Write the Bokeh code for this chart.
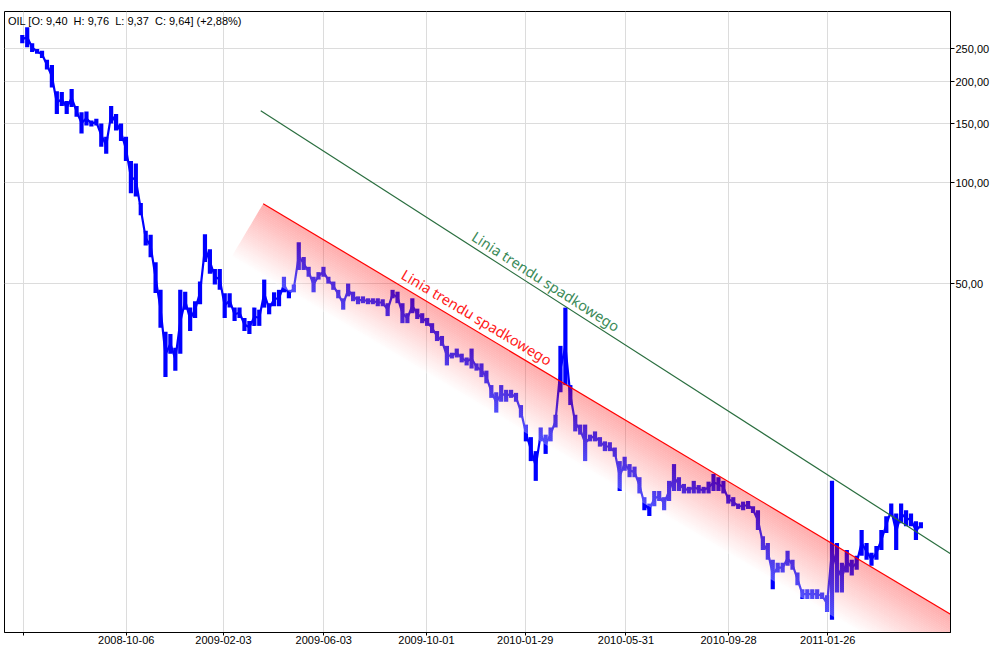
import math
from bokeh.plotting import figure
from bokeh.models import FixedTicker, Range1d
from bokeh.core.properties import value
from bokeh.embed import file_html
from bokeh.resources import INLINE

# ---------------- data ----------------
title_text = "OIL [O: 9,40\u00a0 H: 9,76\u00a0 L: 9,37\u00a0 C: 9,64] (+2,88%)"

# price range (high / low) per sample bar
hi = [
    275, 290, 260, 250, 247, 232, 224, 187, 186, 175,
    190, 169, 162, 163, 153, 155, 150, 137, 169, 160,
    150, 137, 116, 114, 87, 72, 70, 58, 48, 36,
    35.5, 32.3, 48, 47.4, 42.5, 44.4, 50.8, 70.3, 63.4, 55.4,
    55.4, 46.9, 46.9, 42.5, 42.5, 39.6, 38.8, 42.5, 41.9, 51.5,
    43.8, 47.2, 48.0, 52.5, 48.0, 49.8, 66.5, 60.1, 56.2, 52.5,
    54.2, 56.2, 52.5, 50.8, 48.0, 45.3, 50.1, 47.4, 45.9, 45.9,
    45.3, 45.3, 45.3, 45.0, 43.8, 48.0, 47.4, 43.8, 40.9, 45.3,
    42.2, 40.9, 39.6, 38.2, 36.2, 35.0, 32.7, 31.2, 32.1, 31.0,
    30.2, 32.1, 29.0, 29.0, 27.6, 25.0, 23.8, 25.0, 24.2, 24.2,
    23.7, 21.8, 19.07, 17.5, 15.9, 18.7, 17.8, 18.7, 20.4, 32.7,
    42.5, 25.0, 20.4, 19.07, 19.07, 17.8, 18.2, 17.5, 17.0, 16.9,
    16.3, 14.85, 15.3, 14.55, 14.3, 13.3, 11.6, 11.1, 12.1, 12.1,
    11.6, 12.97, 14.55, 13.3, 12.7, 12.45, 12.97, 12.6, 12.45, 12.9,
    13.6, 13.3, 12.97, 11.8, 11.6, 11.1, 11.25, 11.3, 10.9, 10.6,
    8.88, 8.47, 7.55, 7.40, 7.40, 8.03, 7.55, 6.92, 6.17, 6.17,
    6.17, 6.17, 6.04, 5.92, 12.97, 8.47, 7.40, 8.08, 7.55, 7.76,
    9.26, 8.47, 7.92, 8.30, 9.26, 10.17, 11.1, 10.38, 11.1, 10.6,
    10.38, 9.83, 9.76,
]
lo = [
    260, 253, 245, 242, 235, 217, 192, 160, 169, 160,
    168, 157, 140, 148, 147, 148, 128, 122, 150, 143,
    133, 116, 93, 91, 80, 65, 60, 47, 37, 26.4,
    31.0, 27.6, 31.0, 41.9, 36.2, 39.6, 43.5, 58.1, 53.6, 49.8,
    48.0, 39.6, 42.5, 38.8, 39.6, 36.2, 35.5, 37.5, 37.5, 42.5,
    40.6, 42.9, 42.9, 47.2, 45.3, 47.2, 55.0, 55.0, 52.5, 47.2,
    51.5, 52.5, 50.1, 48.0, 45.3, 41.9, 45.9, 44.4, 43.5, 43.8,
    43.5, 43.5, 42.9, 42.9, 40.1, 45.3, 43.8, 38.2, 38.2, 40.9,
    39.3, 38.2, 37.5, 35.7, 33.8, 32.7, 28.6, 30.0, 30.2, 29.2,
    28.6, 28.0, 27.6, 26.4, 25.3, 22.9, 20.7, 22.3, 22.3, 22.9,
    22.3, 20.0, 17.0, 14.85, 12.97, 17.0, 15.6, 17.0, 18.7, 23.8,
    25.0, 21.8, 18.2, 17.8, 14.85, 17.0, 17.0, 16.4, 15.9, 15.9,
    15.3, 12.1, 13.9, 13.3, 13.3, 11.9, 10.6, 10.2, 10.9, 11.3,
    10.6, 11.3, 12.1, 12.1, 11.9, 11.9, 11.9, 11.9, 11.9, 11.9,
    12.1, 12.1, 11.9, 11.1, 10.9, 10.7, 10.6, 10.7, 10.4, 9.26,
    8.08, 7.55, 6.17, 6.92, 6.92, 7.25, 7.06, 6.34, 5.77, 5.77,
    5.77, 5.77, 5.77, 5.28, 5.01, 6.04, 6.04, 6.92, 6.78, 7.06,
    7.76, 7.55, 7.25, 7.55, 8.08, 9.07, 10.17, 8.08, 9.70, 9.50,
    9.50, 8.65, 9.37,
]
idx = list(range(len(hi)))

tick_idx = [0.26, 21.06, 40.74, 61.06, 81.86, 101.86, 122.26, 143.06, 163.14]
tick_labels = ["", "2008-10-06", "2009-02-03", "2009-06-03", "2009-10-01",
               "2010-01-29", "2010-05-31", "2010-09-28", "2011-01-26"]
y_ticks = [50, 100, 150, 200, 250]
y_tick_labels = ["50,00", "100,00", "150,00", "200,00", "250,00"]

green_x = [48.3, 188.0]
green_y = [163.6, 7.87]
red_x = [48.8, 188.0]
red_y = [86.6, 5.20]
trend_label = "Linia trendu spadkowego"
green_label_pos = (106.1, 50.95)
red_label_pos = (92.1, 39.87)

# ---------------- figure ----------------
W, H = 992, 648
ML, MT, MR, MB = 4, 11, 41, 16
X0, X1 = -3.6, 188.0
Y0, Y1 = 4.59, 323.1
FONT = "Liberation Sans"

p = figure(width=W, height=H, y_axis_type="log",
           x_range=Range1d(X0, X1), y_range=Range1d(Y0, Y1),
           output_backend="svg", toolbar_location=None,
           y_axis_location="right",
           min_border_left=ML, min_border_top=MT,
           min_border_right=MR, min_border_bottom=MB)
p.background_fill_color = "white"
p.border_fill_color = "white"
p.outline_line_color = "black"
p.outline_line_width = 1

for ax in (p.xaxis[0], p.yaxis[0]):
    ax.axis_line_color = "black"
    ax.major_tick_line_color = "black"
    ax.minor_tick_line_color = None
    ax.major_tick_in = 0
    ax.major_label_text_font = FONT
    ax.major_label_text_font_size = "11px"
    ax.major_label_text_color = "black"

xt = FixedTicker(ticks=tick_idx)
yt = FixedTicker(ticks=y_ticks)
p.xaxis.ticker = xt
p.xaxis.major_label_overrides = dict(zip(tick_idx, tick_labels))
p.xaxis.major_tick_out = 3
p.xaxis.major_label_standoff = 0
p.yaxis.ticker = yt
p.yaxis.major_label_overrides = dict(zip(y_ticks, y_tick_labels))
p.yaxis.major_tick_out = 4
p.yaxis.major_label_standoff = 1
p.xgrid.ticker = xt
p.ygrid.ticker = yt
p.grid.grid_line_color = "#dcdcdc"
p.grid.minor_grid_line_color = None

fw = W - ML - MR
fh = H - MT - MB
ppx = fw / (X1 - X0)
ppd = fh / (math.log10(Y1) - math.log10(Y0))

# candles (high-low ranges) + connecting trace
mid = [math.sqrt(h * l) for h, l in zip(hi, lo)]
p.line(idx, mid, line_color="#0000ff", line_width=2.2)
p.vbar(x=idx, top=hi, bottom=lo, width=0.85, fill_color="#0000ff", line_color=None)

# gradient band below the red trend line (stacked strips)
lr0, lr1 = math.log10(red_y[0]), math.log10(red_y[1])
dxp = (red_x[1] - red_x[0]) * ppx
dyp = -(lr1 - lr0) * ppd
Lr = math.hypot(dxp, dyp)
nx, ny = -dyp / Lr, dxp / Lr
slope_log = (lr1 - lr0) / (red_x[1] - red_x[0])
ext_x = red_x[1] + 25
ext_l = lr0 + slope_log * (ext_x - red_x[0])


def shift(xd, ly, t):
    return xd + nx * t / ppx, 10 ** (ly - ny * t / ppd)


N, T = 36, 62.0
xs, ys, cols = [], [], []
for k in range(N):
    t0, t1 = T * k / N, T * (k + 1) / N
    a = shift(red_x[0], lr0, t0)
    b = shift(ext_x, ext_l, t0)
    c = shift(ext_x, ext_l, t1)
    d = shift(red_x[0], lr0, t1)
    xs.append([a[0], b[0], c[0], d[0]])
    ys.append([a[1], b[1], c[1], d[1]])
    g = int(round(255 * (k + 0.5) / N))
    cols.append("#%02x%02x%02x" % (255, g, g))
p.patches(xs, ys, fill_color=cols, fill_alpha=0.33, line_color=None)

# trend lines
p.line(green_x, green_y, line_color="#2a6e3f", line_width=1.2)
p.line(red_x, red_y, line_color="#ff0000", line_width=1.2)

# labels along lines
gdx = (green_x[1] - green_x[0]) * ppx
gdy = -(math.log10(green_y[1]) - math.log10(green_y[0])) * ppd
ang_g = -math.atan2(gdy, gdx)
ang_r = -math.atan2(dyp, dxp)
p.text(x=[green_label_pos[0]], y=[green_label_pos[1]], text=[trend_label],
       angle=ang_g, text_align="center", text_baseline="middle",
       text_font=value("Noto Sans"), text_font_size="14.5px", text_color="#3b8a58")
p.text(x=[red_label_pos[0]], y=[red_label_pos[1]], text=[trend_label],
       angle=ang_r, text_align="center", text_baseline="middle",
       text_font=value("Noto Sans"), text_font_size="14.5px", text_color="#ff1a1a")

# header text
hx = X0 + 3.5 / ppx
hy = 10 ** (math.log10(Y1) - 9 / ppd)
p.text(x=[hx], y=[hy], text=[title_text], text_align="left", text_baseline="middle",
       text_font=value(FONT), text_font_size="11px", text_color="black")

open("out.html", "w").write(file_html(p, INLINE))
